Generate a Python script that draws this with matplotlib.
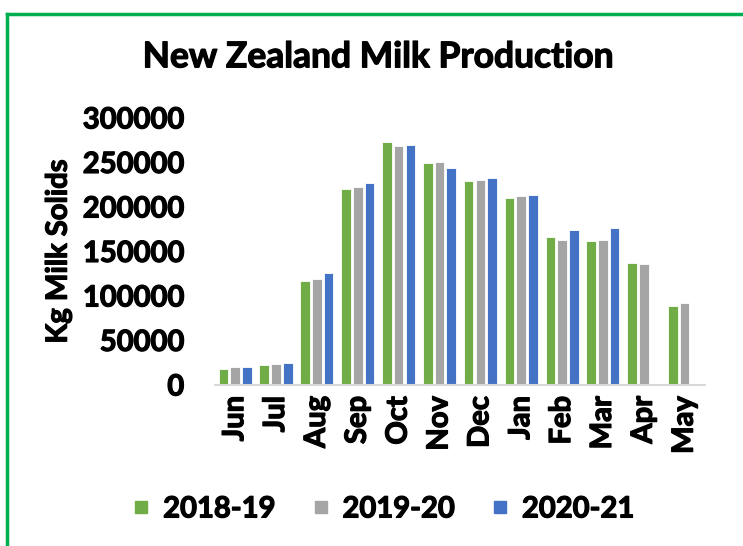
import numpy as np
import matplotlib.pyplot as plt
import matplotlib.patheffects as pe
from matplotlib.lines import Line2D

plt.rcParams['font.family'] = ['Lato', 'DejaVu Sans']
plt.rcParams['font.weight'] = 'bold'

months = ['Jun', 'Jul', 'Aug', 'Sep', 'Oct', 'Nov', 'Dec', 'Jan', 'Feb', 'Mar', 'Apr', 'May']
seasons = ['2018-19', '2019-20', '2020-21']
s2018 = [17600, 22500, 116900, 220200, 272600, 249400, 229200, 209700, 165900, 161800, 137100, 88400]
s2019 = [19800, 23600, 119100, 222100, 268200, 250600, 230300, 212000, 162900, 162900, 136300, 91800]
s2020 = [20600, 25100, 125500, 226600, 269300, 243800, 232600, 213100, 174200, 176400, np.nan, np.nan]
colors = ['#70AD47', '#A5A5A5', '#4472C4']

fig = plt.figure(figsize=(7.43, 5.46), dpi=100)
ax = fig.add_axes([0.289, 0.295, 0.66, 0.489])

x = np.arange(len(months))
step = 0.287
for i, (vals, lab) in enumerate(zip([s2018, s2019, s2020], seasons)):
    ax.bar(x + (i - 1) * step, vals, width=0.235, color=colors[i],
           edgecolor='white', linewidth=0.6, label=lab)

ax.set_xlim(-0.5, len(months) - 0.5)
ax.set_ylim(0, 300000)
ax.set_yticks(np.arange(0, 300001, 50000))
ax.set_yticklabels([str(v) for v in range(0, 300001, 50000)], fontsize=21, fontweight='bold')
ax.set_xticks(x)
ax.set_xticklabels(months, rotation=90, fontsize=21, fontweight='bold')
ax.tick_params(length=0)
ax.tick_params(axis='y', pad=22)
ax.tick_params(axis='x', pad=8)
for s in ['top', 'right', 'left']:
    ax.spines[s].set_visible(False)
ax.spines['bottom'].set_color('#D9D9D9')
ax.spines['bottom'].set_linewidth(1.5)

ax.set_ylabel('Kg Milk Solids', fontsize=21, fontweight='bold', labelpad=8)
title = fig.text(0.509, 0.895, 'New Zealand Milk Production', ha='center', va='center',
                 fontsize=25.5, fontweight='bold')

handles = [Line2D([], [], marker='s', ls='', markersize=8.5, color=c) for c in colors]
leg = fig.legend(handles, seasons, loc='center', bbox_to_anchor=(0.517, 0.067), ncol=3,
                 frameon=False, prop={'size': 21, 'weight': 'bold'}, handlelength=0.5,
                 handletextpad=0.5, columnspacing=1.3)

# heavier strokes, closer to the original bold face
fx = [pe.withStroke(linewidth=0.9, foreground='black')]
for t in ax.get_xticklabels() + ax.get_yticklabels() + leg.get_texts() + [ax.yaxis.label, title]:
    t.set_path_effects(fx)

# green chart border (left and top edges visible)
fig.add_artist(Line2D([0.009, 0.009], [0, 0.975], color='#00B050', lw=2.5, transform=fig.transFigure))
fig.add_artist(Line2D([0.009, 1.0], [0.975, 0.975], color='#00B050', lw=2.5, transform=fig.transFigure))

fig.savefig('out.png', dpi=100)
